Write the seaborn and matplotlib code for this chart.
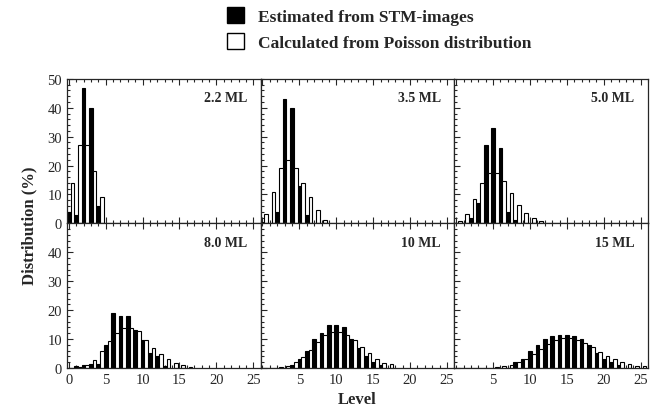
import numpy as np
import pandas as pd
import seaborn as sns
import matplotlib.pyplot as plt
from matplotlib.patches import Patch
from matplotlib.ticker import MultipleLocator

# thickness of each film and the panel label
films = ["2.2 ML", "3.5 ML", "5.0 ML", "8.0 ML", "10 ML", "15 ML"]

# distributions over level 0, 1, 2, ... (percent)
est_2_2 = [4, 3, 47, 40, 6]
poi_2_2 = [14, 27, 27, 18, 9]

est_3_5 = [0.5, 0, 3.8, 43, 40, 13, 3]
poi_3_5 = [3.4, 11, 19, 22, 19, 14, 9, 4.8, 1]

est_5_0 = [0, 0, 2, 7, 27, 33, 26, 4, 1]
poi_5_0 = [0.7, 3.4, 8.4, 14, 17.5, 17.5, 14.6, 10.4, 6.5, 3.6, 1.8, 0.8]

est_8_0 = [0, 0.5, 1, 1.5, 1.5, 8, 19, 18, 18, 13, 9.5, 5, 4, 0.5]
poi_8_0 = [0, 0.3, 1, 2.8, 6, 9.2, 12, 13.8, 13.8, 12.6, 9.8, 7, 4.8, 3, 1.8, 0.9, 0.4]

est_10 = [0, 0, 0, 0, 1, 3, 6, 10, 12, 15, 15, 14, 10, 7, 4, 2, 1]
poi_10 = [0, 0.05, 0.2, 0.8, 1.9, 3.8, 6.3, 9, 11.3, 12.5, 12.5, 11.4, 9.5, 7.3,
          5.2, 3.2, 1.8, 1.2]

est_15 = [0, 0, 0, 0, 0, 0, 0, 0, 2, 3, 6, 8, 10, 11, 11.5, 11.5, 11, 10, 8, 5,
          3, 2, 1]
poi_15 = [0, 0, 0, 0, 0, 0.2, 0.5, 1, 1.9, 3.2, 4.9, 6.6, 8.3, 9.6, 10.2, 10.2,
          9.6, 8.5, 7.1, 5.6, 4.2, 3, 2.1, 1.3, 0.8, 0.5]

estimated = [est_2_2, est_3_5, est_5_0, est_8_0, est_10, est_15]
poisson = [poi_2_2, poi_3_5, poi_5_0, poi_8_0, poi_10, poi_15]

sns.set_theme(style="ticks")
plt.rcParams["font.family"] = ["Liberation Serif", "DejaVu Serif"]
plt.rcParams["xtick.direction"] = "in"
plt.rcParams["ytick.direction"] = "in"

fig = plt.figure(figsize=(6.5, 4.14), dpi=100)
axes = fig.subplots(2, 3, gridspec_kw=dict(wspace=0, hspace=0))
fig.subplots_adjust(left=0.103, right=0.997, top=0.807, bottom=0.109)

for i, ax in enumerate(axes.flat):
    est = estimated[i]
    poi = poisson[i]
    df_e = pd.DataFrame({"level": np.arange(len(est)), "pct": est})
    df_p = pd.DataFrame({"level": np.arange(len(poi)) + 0.5, "pct": poi})
    # black = estimated, white = Poisson, side by side at each level
    sns.histplot(data=df_e, x="level", weights="pct", discrete=True, shrink=0.5,
                 color="black", edgecolor="black", linewidth=0.8, alpha=1, ax=ax)
    sns.histplot(data=df_p, x="level", weights="pct", discrete=True, shrink=0.5,
                 color="white", edgecolor="black", linewidth=0.8, alpha=1, ax=ax)

    ax.set_xlim(-0.25, 26)
    ax.set_ylim(0, 50)
    ax.set_xlabel("")
    ax.set_ylabel("")
    ax.xaxis.set_minor_locator(MultipleLocator(1))
    ax.yaxis.set_minor_locator(MultipleLocator(2))
    ax.tick_params(which="both", top=True, right=False, direction="in",
                   labelsize=10.5, width=0.8)
    ax.tick_params(which="major", length=4)
    ax.tick_params(which="minor", length=2.5)
    for s in ax.spines.values():
        s.set_linewidth(0.9)

    row, col = divmod(i, 3)
    if col == 0:
        ax.set_yticks([0, 10, 20, 30, 40, 50] if row == 0 else [0, 10, 20, 30, 40])
    else:
        ax.set_yticks([0, 10, 20, 30, 40])
        ax.tick_params(labelleft=False)
    if row == 0:
        ax.set_xticks([0, 5, 10, 15, 20, 25])
        ax.tick_params(labelbottom=False)
    else:
        ax.set_xticks([0, 5, 10, 15, 20, 25] if col == 0 else [5, 10, 15, 20, 25])

    ax.text(0.93, 0.87, films[i], transform=ax.transAxes, ha="right", va="center",
            fontsize=10, fontweight="bold")

fig.text(0.045, 0.455, "Distribution (%)", rotation=90, ha="center", va="center",
         fontsize=12, fontweight="bold")
fig.text(0.55, 0.035, "Level", ha="center", va="center", fontsize=12,
         fontweight="bold")

handles = [Patch(facecolor="black", edgecolor="black"),
           Patch(facecolor="white", edgecolor="black")]
fig.legend(handles, ["Estimated from STM-images", "Calculated from Poisson distribution"],
           loc="upper left", bbox_to_anchor=(0.33, 1.01), frameon=False,
           prop=dict(size=12.5, weight="bold"), handlelength=1.0, handleheight=1.0,
           handletextpad=0.8, labelspacing=0.5, borderpad=0.2)

fig.savefig("out.png", dpi=100)
